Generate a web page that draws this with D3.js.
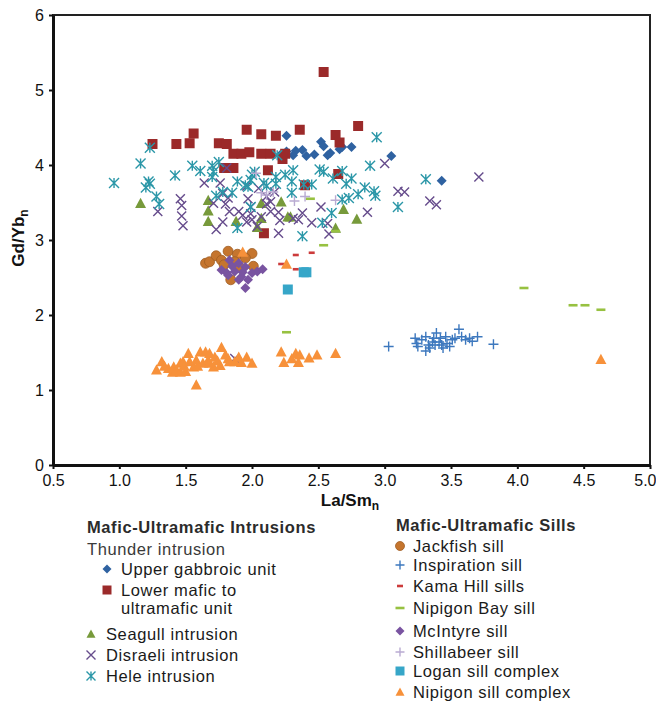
<!DOCTYPE html>
<html>
<head>
<meta charset="utf-8">
<title>Gd/Yb vs La/Sm</title>
<script src="https://cdn.jsdelivr.net/npm/d3@7"></script>
<style>
body { margin: 0; background: #fff; }
text { font-family: Arial, "Liberation Sans", sans-serif; }
</style>
</head>
<body>
<script type="text/javascript">

// ---- data (La/Sm_n, Gd/Yb_n) ----
var upperGabbroic = [[2.26,4.39],[2.26,4.18],[2.33,4.19],[2.38,4.20],[2.41,4.12],[2.47,4.14],
  [2.52,4.31],[2.54,4.25],[2.57,4.13],[2.59,4.16],[2.66,4.21],[2.68,4.24],[2.75,4.24],
  [3.05,4.12],[3.43,3.79],[2.31,4.13],[2.21,4.13]];

var lowerMafic = [[1.25,4.28],[1.43,4.28],[1.53,4.29],[1.56,4.42],[1.75,4.29],[1.81,4.28],
  [1.96,4.47],[2.07,4.41],[2.18,4.39],[2.36,4.47],[1.79,3.96],[1.86,3.96],[1.86,4.15],
  [1.92,4.15],[1.98,4.17],[2.07,4.15],[2.14,4.15],[2.25,4.15],[2.23,4.08],[2.12,3.93],
  [2.40,3.73],[2.09,3.09],[2.54,5.24],[2.80,4.52],[2.63,4.40],[2.66,4.30],[2.65,3.88]];

var seagull = [[1.16,3.49],[1.67,3.53],[1.67,3.39],[1.67,3.25],[1.88,3.25],[2.07,3.49],
  [2.07,3.29],[2.04,3.17],[2.22,3.51],[2.27,3.31],[2.29,3.31],[2.69,3.41],[2.79,3.28],[2.63,3.16]];

var disraeli = [[1.29,3.38],[1.46,3.55],[1.47,3.46],[1.47,3.32],[1.48,3.19],[1.64,3.76],
  [1.76,3.76],[1.81,3.96],[1.71,3.49],[1.73,3.14],[1.78,3.62],[1.80,3.48],[1.82,3.56],
  [1.83,3.38],[1.78,3.24],[1.90,3.38],[1.96,3.72],[1.97,3.55],[1.99,3.44],[1.99,3.35],
  [1.93,3.33],[2.00,3.27],[1.96,3.24],[2.04,3.18],[2.11,3.48],[2.14,3.38],[2.20,3.37],
  [2.21,3.26],[2.20,3.09],[2.31,3.29],[2.35,3.27],[2.38,3.36],[2.45,3.23],[2.52,3.44],
  [2.57,3.22],[2.58,3.08],[2.87,3.37],[3.00,4.02],[3.10,3.65],[3.15,3.64],[3.34,3.52],
  [3.39,3.47],[3.71,3.84],[2.07,3.31],[2.14,3.51],[2.11,3.58],[2.05,3.69],[2.17,3.64],
  [1.87,1.42]];

var hele = [[0.96,3.76],[1.16,4.02],[1.23,4.23],[1.22,3.78],[1.23,3.75],[1.20,3.70],
  [1.28,3.58],[1.30,3.48],[1.42,3.86],[1.55,3.99],[1.61,3.92],[1.70,3.99],[1.71,3.91],
  [1.70,3.84],[1.75,4.04],[1.78,3.64],[1.73,3.59],[1.89,3.78],[1.85,3.63],[1.89,3.16],
  [1.95,3.73],[1.97,3.71],[2.00,3.87],[2.02,3.91],[1.99,3.80],[2.09,3.76],[2.11,3.72],
  [1.99,3.44],[2.18,3.84],[2.18,3.75],[2.19,4.13],[2.25,3.87],[2.30,3.78],[2.31,3.93],
  [2.30,3.63],[2.38,3.05],[2.39,3.74],[2.45,3.74],[2.51,3.94],[2.54,3.91],[2.61,3.82],
  [2.68,3.92],[2.75,3.82],[2.71,3.75],[2.85,3.70],[2.92,3.65],[2.93,3.59],[2.80,3.61],
  [2.73,3.56],[2.68,3.54],[2.60,3.36],[2.53,3.23],[2.89,3.99],[2.94,4.37],[3.31,3.81],
  [3.10,3.44]];

var jackfish = [[1.65,2.69],[1.68,2.71],[1.73,2.79],[1.77,2.73],[1.82,2.85],[1.89,2.81],
  [2.00,2.82],[1.84,2.47],[2.01,2.65],[1.95,2.76],[1.87,2.71],[1.79,2.67],[1.91,2.63]];

var inspiration = [[3.03,1.58],[3.23,1.69],[3.24,1.62],[3.25,1.58],[3.31,1.71],[3.33,1.60],
  [3.31,1.52],[3.36,1.64],[3.39,1.76],[3.41,1.64],[3.43,1.60],[3.46,1.71],[3.47,1.62],
  [3.49,1.58],[3.51,1.67],[3.53,1.69],[3.56,1.81],[3.58,1.71],[3.61,1.67],[3.64,1.69],
  [3.66,1.65],[3.70,1.71],[3.82,1.61],[3.38,1.60],[3.34,1.56],[3.42,1.69],[3.28,1.67],
  [3.37,1.69],[3.44,1.56]];

var kamaHill = [[2.22,2.68],[2.33,2.80],[2.33,2.61],[2.45,2.83]];

var nipigonBay = [[2.44,3.55],[2.63,3.12],[2.54,2.93],[2.26,1.77],[4.05,2.36],[4.42,2.13],
  [4.51,2.13],[4.63,2.07]];

var mcintyre = [[1.77,2.60],[1.83,2.73],[1.90,2.69],[1.95,2.64],[1.87,2.58],[1.92,2.51],
  [1.97,2.47],[1.95,2.36],[2.04,2.58],[2.08,2.61],[1.81,2.56],[1.90,2.47],[2.00,2.56],
  [1.85,2.65],[1.82,2.53],[1.93,2.57]];

var shillabeer = [[2.03,3.89],[2.07,3.63],[2.11,3.60],[2.16,3.64],[2.32,3.52],[2.40,3.58],[2.63,3.53]];

var logan = [[2.41,2.57],[2.39,2.57],[2.27,2.34]];

var nipigonSill = [[1.28,1.27],[1.32,1.38],[1.37,1.29],[1.40,1.24],[1.41,1.31],[1.43,1.27],
  [1.46,1.36],[1.46,1.24],[1.48,1.38],[1.52,1.49],[1.53,1.38],[1.56,1.31],[1.58,1.40],
  [1.61,1.51],[1.63,1.36],[1.65,1.51],[1.67,1.40],[1.68,1.49],[1.71,1.31],[1.72,1.44],
  [1.76,1.33],[1.77,1.57],[1.80,1.47],[1.82,1.42],[1.83,1.38],[1.87,1.38],[1.90,1.44],
  [1.96,1.44],[2.00,1.36],[1.58,1.07],[2.22,1.51],[2.24,1.37],[2.30,1.42],[2.33,1.49],
  [2.36,1.47],[2.35,1.37],[2.43,1.43],[2.49,1.47],[2.63,1.49],[4.63,1.41],[1.93,2.84],
  [2.26,2.68],[1.34,1.32],[1.49,1.32],[1.59,1.32],[1.74,1.39],[1.92,1.37],[1.50,1.25],
  [1.68,1.36]];

var xTicks = [0.5,1.0,1.5,2.0,2.5,3.0,3.5,4.0,4.5,5.0];
var yTicks = [0,1,2,3,4,5,6];

// series: name, data, shape, colour
var series = [
  {name: "Upper gabbroic unit", data: upperGabbroic, shape: "diamond", color: "#2f62a1"},
  {name: "Lower mafic to ultramafic unit", data: lowerMafic, shape: "square", color: "#9b2a2a"},
  {name: "Seagull intrusion", data: seagull, shape: "triangle", color: "#779a3b"},
  {name: "Disraeli intrusion", data: disraeli, shape: "x", color: "#664c8c"},
  {name: "Hele intrusion", data: hele, shape: "star", color: "#2b97a8"},
  {name: "Jackfish sill", data: jackfish, shape: "circle", color: "#c5752e"},
  {name: "Inspiration sill", data: inspiration, shape: "plus", color: "#3d78be"},
  {name: "Kama Hill sills", data: kamaHill, shape: "dashS", color: "#cc3b3b"},
  {name: "Nipigon Bay sill", data: nipigonBay, shape: "dash", color: "#97c141"},
  {name: "McIntyre sill", data: mcintyre, shape: "diamond", color: "#7954a1"},
  {name: "Shillabeer sill", data: shillabeer, shape: "plus", color: "#b9abd2"},
  {name: "Logan sill complex", data: logan, shape: "square", color: "#36a6c8"},
  {name: "Nipigon sill complex", data: nipigonSill, shape: "triangle", color: "#f7913a"}
];

var width = 656, height = 702;
var svg = d3.select("body").append("svg")
  .attr("width", width).attr("height", height);

var x = d3.scaleLinear().domain([0.5, 5]).range([53, 650]);
var y = d3.scaleLinear().domain([0, 6]).range([465, 15]);

// frame (top/right)
svg.append("rect")
  .attr("x", x(0.5)).attr("y", y(6))
  .attr("width", x(5) - x(0.5)).attr("height", y(0) - y(6))
  .attr("fill", "none").attr("stroke", "#222").attr("stroke-width", 2);

// marker paths, s = size in px
function shapePath(shape, s){
  var h = s / 2;
  switch(shape){
    case "square": return "M" + (-h) + "," + (-h) + "h" + s + "v" + s + "h" + (-s) + "Z";
    case "diamond": return "M0," + (-h) + "L" + h + ",0L0," + h + "L" + (-h) + ",0Z";
    case "triangle": return "M0," + (-h) + "L" + h + "," + (h * 0.85) + "L" + (-h) + "," + (h * 0.85) + "Z";
    case "circle": return d3.arc()({innerRadius: 0, outerRadius: h, startAngle: 0, endAngle: 2 * Math.PI});
    case "x": return "M" + (-h) + "," + (-h) + "L" + h + "," + h + "M" + h + "," + (-h) + "L" + (-h) + "," + h;
    case "plus": return "M" + (-h) + ",0H" + h + "M0," + (-h) + "V" + h;
    case "star": return "M" + (-h) + "," + (-h) + "L" + h + "," + h + "M" + h + "," + (-h) + "L" + (-h) + "," + h + "M0," + (-h) + "V" + h;
    case "dash": return "M" + (-h) + ",0H" + h;
    case "dashS": return "M" + (-h) + ",0H" + h;
  }
}
var sizes = {square: 10, diamond: 10, triangle: 11, circle: 10, x: 9, plus: 10, star: 10, dash: 9, dashS: 6};
var filled = {square: true, diamond: true, triangle: true, circle: true};

function drawMarker(g, shape, color, s){
  var p = g.append("path").attr("d", shapePath(shape, s || sizes[shape]));
  if(filled[shape]){
    p.attr("fill", color).attr("stroke", shape == "circle" ? d3.color(color).darker(0.6) : "none")
     .attr("stroke-width", 0.8);
  } else {
    p.attr("fill", "none").attr("stroke", color)
     .attr("stroke-width", (shape == "dash" || shape == "dashS") ? 2.6 : 1.4);
  }
  return p;
}

var gPts = svg.append("g");
series.forEach(function(sr){
  var g = gPts.append("g");
  g.selectAll("g")
    .data(sr.data)
    .enter()
    .append("g")
    .attr("transform", function(d){ return "translate(" + x(d[0]) + "," + y(d[1]) + ")"; })
    .each(function(){ drawMarker(d3.select(this), sr.shape, sr.color); });
});

// axes
var xAxis = svg.append("g")
  .attr("transform", "translate(0," + y(0) + ")")
  .call(d3.axisBottom(x).tickValues(xTicks).tickFormat(d3.format(".1f")).tickSize(4).tickSizeOuter(0));
var yAxis = svg.append("g")
  .attr("transform", "translate(" + x(0.5) + ",0)")
  .call(d3.axisLeft(y).tickValues(yTicks).tickFormat(d3.format("d")).tickSize(4).tickSizeOuter(0));

[xAxis, yAxis].forEach(function(a){
  a.select(".domain").attr("stroke", "#111").attr("stroke-width", 3);
  a.selectAll(".tick line").attr("stroke", "#111").attr("stroke-width", 2);
  a.selectAll(".tick text").attr("fill", "#111").style("font-size", "16px")
   .style("font-family", "Arial, 'Liberation Sans', sans-serif");
});
xAxis.selectAll(".tick text").attr("dy", "0.85em");
// keep the last label inside the page
xAxis.selectAll(".tick text").filter(function(d){ return d == 5; }).attr("text-anchor", "end").attr("x", 6);
yAxis.selectAll(".tick text").attr("x", -9);

// axis titles
var xt = svg.append("text")
  .attr("x", 350).attr("y", 506).attr("text-anchor", "middle")
  .style("font-size", "17px").style("font-weight", "bold").attr("fill", "#111");
xt.append("tspan").text("La/Sm");
xt.append("tspan").attr("dy", 4).style("font-size", "12px").text("n");

var yt = svg.append("text")
  .attr("transform", "translate(24,238) rotate(-90)").attr("text-anchor", "middle")
  .style("font-size", "17px").style("font-weight", "bold").attr("fill", "#111");
yt.append("tspan").text("Gd/Yb");
yt.append("tspan").attr("dy", 4).style("font-size", "12px").text("n");

// legend
var lg = svg.append("g").style("font-size", "16.5px").style("letter-spacing", "0.6px").attr("fill", "#1a1a1a");

lg.append("text").attr("x", 87).attr("y", 533).style("font-weight", "bold").attr("fill", "#2b2b2b")
  .text("Mafic-Ultramafic Intrusions");
lg.append("text").attr("x", 87).attr("y", 555).attr("fill", "#3a3a3a").text("Thunder intrusion");

var leftItems = [
  {s: series[0], sx: 107, tx: 121, ty: 575, lines: ["Upper gabbroic unit"]},
  {s: series[1], sx: 107, tx: 121, ty: 596, lines: ["Lower mafic to", "ultramafic unit"]},
  {s: series[2], sx: 91, tx: 106, ty: 640, lines: ["Seagull intrusion"]},
  {s: series[3], sx: 91, tx: 106, ty: 661, lines: ["Disraeli intrusion"]},
  {s: series[4], sx: 91, tx: 106, ty: 682, lines: ["Hele intrusion"]}
];

lg.append("text").attr("x", 396).attr("y", 531).style("font-weight", "bold").attr("fill", "#2b2b2b")
  .text("Mafic-Ultramafic Sills");

var rightItems = [];
var sillBase = [552, 571, 592, 614, 637, 658, 677, 698];
for(var i = 5; i < series.length; i++){
  rightItems.push({s: series[i], sx: 400, tx: 413, ty: sillBase[i - 5], lines: [series[i].name]});
}

leftItems.concat(rightItems).forEach(function(it){
  var g = lg.append("g").attr("transform", "translate(" + it.sx + "," + (it.ty - 6) + ")");
  drawMarker(g, it.s.shape, it.s.color, it.s.shape == "dashS" ? 6 : 9);
  var t = lg.append("text").attr("x", it.tx).attr("y", it.ty);
  it.lines.forEach(function(l, k){
    t.append("tspan").attr("x", it.tx).attr("dy", k == 0 ? 0 : 18).text(l);
  });
});

</script>
</body>
</html>
